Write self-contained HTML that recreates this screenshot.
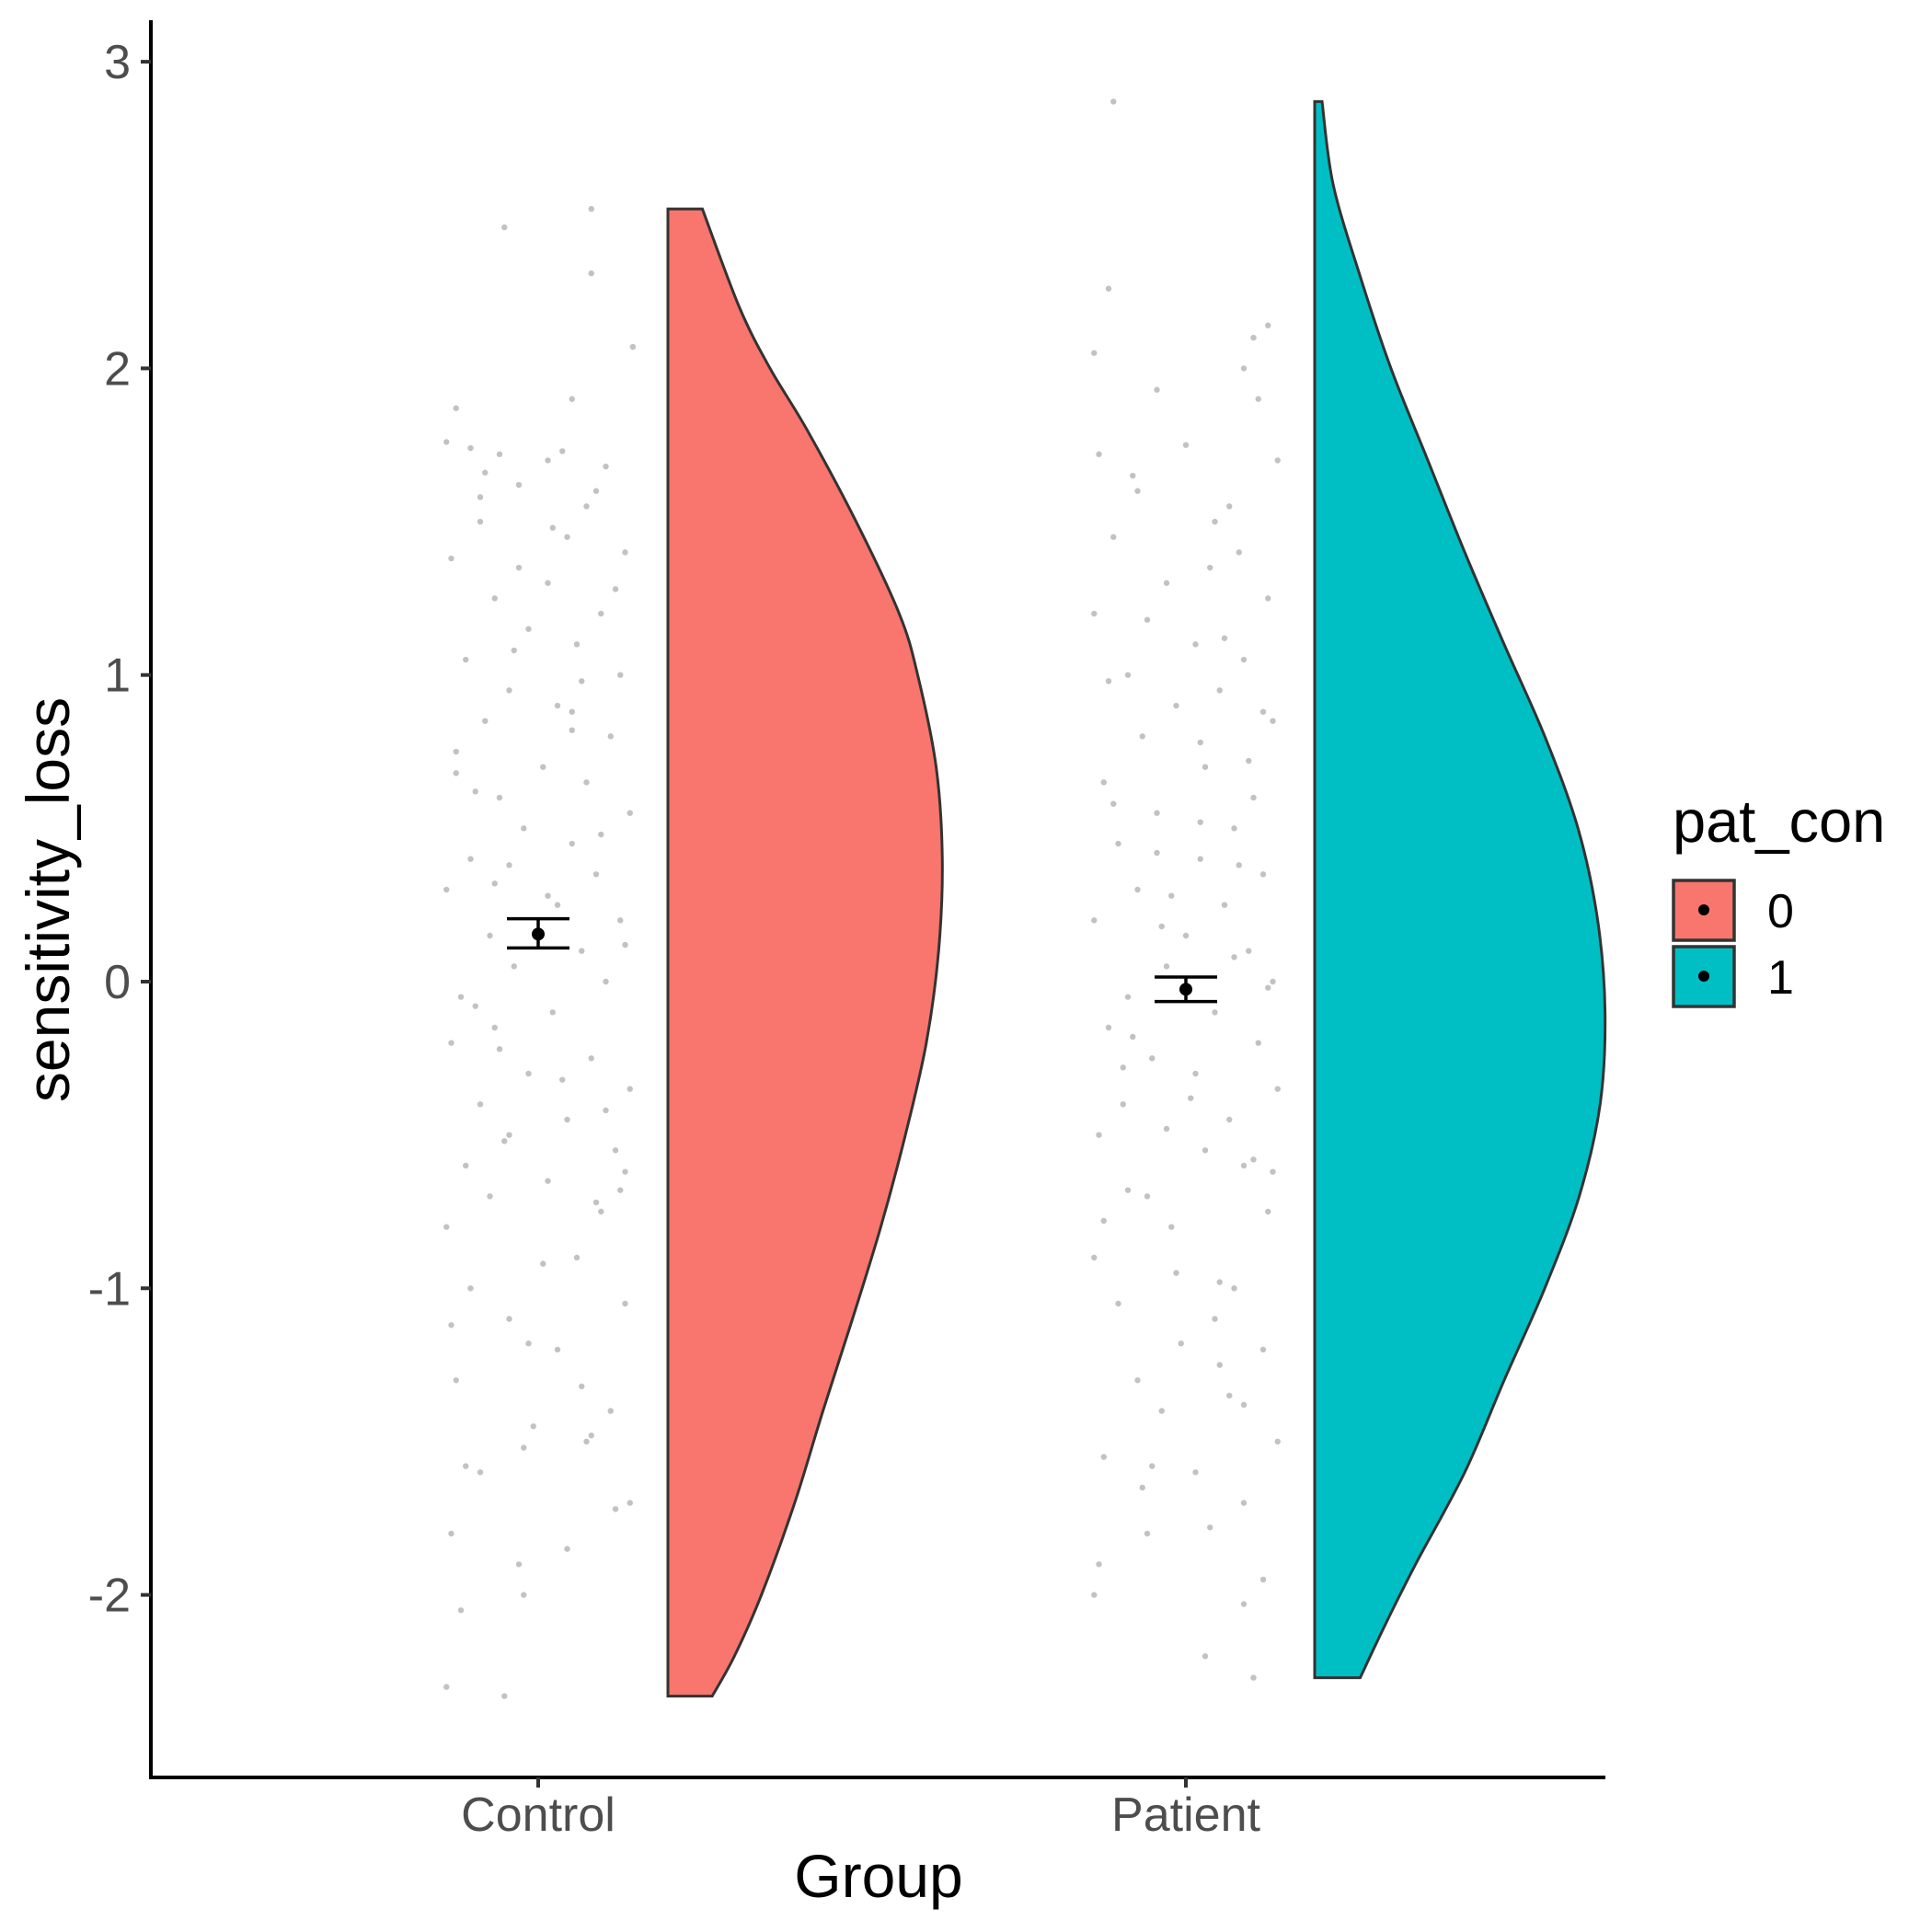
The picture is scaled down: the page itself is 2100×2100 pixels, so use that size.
<!DOCTYPE html>
<html><head><meta charset="utf-8"><style>
html,body{margin:0;padding:0;background:#fff;}
svg{display:block;}
</style></head><body>
<svg id="chart" width="2100" height="2100" viewBox="0 0 2100 2100" xmlns="http://www.w3.org/2000/svg" font-family="'Liberation Sans', Arial, sans-serif">
<g id="points"></g>
<g id="violins"></g>
<g id="errbars"></g>
<g id="axes"></g>
<text x="955" y="2062" font-size="66" text-anchor="middle" fill="#000">Group</text>
<text transform="translate(75,978) rotate(-90)" font-size="66" text-anchor="middle" fill="#000">sensitivity_loss</text>
<g>
<text x="1818" y="915" font-size="65" fill="#000">pat_con</text>
<g>
<rect x="1819" y="957" width="66" height="65" fill="#F8766D" stroke="#333" stroke-width="3.5"/>
<circle cx="1852" cy="989" r="6" fill="#000"/>
<text x="1921" y="1008" font-size="52" fill="#000">0</text>
</g>
<g>
<rect x="1819" y="1029" width="66" height="65" fill="#00BFC4" stroke="#333" stroke-width="3.5"/>
<circle cx="1852" cy="1061" r="6" fill="#000"/>
<text x="1921" y="1080" font-size="52" fill="#000">1</text>
</g>
</g>
</svg>
<script>
// ---- data ----
const groups = ["Control", "Patient"];
const yTicks = [-2, -1, 0, 1, 2, 3];
const yTickLabels = ["-2", "-1", "0", "1", "2", "3"];
const controlDensY = [2.52, 2.2, 2.0, 1.8, 1.5, 1.2, 1.0, 0.7, 0.4, 0.1, -0.2, -0.5, -0.8, -1.1, -1.4, -1.7, -2.0, -2.2, -2.33];
const controlDens  = [28, 58, 83, 113, 153, 188, 203, 218, 223, 220, 210, 193, 173, 150, 126, 103, 76, 54, 36];
const patientDensY = [2.87, 2.6, 2.3, 2.0, 1.7, 1.4, 1.1, 0.8, 0.5, 0.2, -0.1, -0.4, -0.7, -1.0, -1.3, -1.6, -1.9, -2.1, -2.27];
const patientDens  = [6, 15, 37, 62, 92, 122, 154, 187, 214, 230, 236, 232, 215, 187, 154, 122, 82, 57, 37];
const means = [0.155, -0.025];
const upper = [0.205, 0.015];
const lower = [0.11, -0.065];
const controlPtsY = [2.52,2.46,2.31,2.07,1.9,1.87,1.76,1.74,1.72,1.7,1.68,1.62,1.55,1.5,1.45,1.4,1.38,1.3,1.25,1.2,1.15,1.1,1.05,1.0,0.95,0.9,0.85,0.8,0.75,0.7,0.65,0.6,0.55,0.5,0.45,0.4,0.35,0.3,0.25,0.2,0.15,0.1,0.05,0.0,-0.05,-0.1,-0.15,-0.2,-0.25,-0.3,-0.35,-0.4,-0.45,-0.5,-0.55,-0.6,-0.65,-0.7,-0.75,-0.8,-0.9,-1.0,-1.05,-1.1,-1.2,-1.3,-1.4,-1.45,-1.5,-1.6,-1.7,-1.8,-1.85,-1.9,-2.0,-2.05,-2.3,-2.33,1.73,1.6,1.35,0.98,0.62,0.28,-0.22,-0.68,-1.18,-1.48,1.66,0.82,-0.42,-1.58,1.58,1.28,1.08,0.88,0.68,0.48,0.32,0.12,-0.08,-0.32,-0.52,-0.72,-0.92,-1.12,-1.32,-1.52,-1.72,1.48,0.38,-0.62];
const controlPtsJ = [0.55,-0.35,0.55,0.98,0.35,-0.85,-0.95,-0.7,-0.4,0.1,0.7,-0.2,0.5,-0.6,0.3,0.9,-0.9,0.1,-0.45,0.65,-0.1,0.4,-0.75,0.85,-0.3,0.2,-0.55,0.75,-0.85,0.05,0.5,-0.4,0.95,-0.15,0.35,-0.7,0.6,-0.95,0.2,0.85,-0.5,0.45,-0.25,0.7,-0.8,0.15,-0.45,-0.9,0.55,-0.1,0.95,-0.6,0.3,-0.3,0.8,-0.75,0.1,-0.5,0.65,-0.95,0.4,-0.7,0.9,-0.3,0.2,-0.85,0.75,-0.05,0.5,-0.6,0.95,-0.9,0.3,-0.2,-0.15,-0.8,-0.95,-0.35,0.25,0.6,-0.2,0.45,-0.65,0.1,-0.4,0.85,-0.1,0.55,-0.55,0.35,0.7,-0.75,-0.6,0.8,-0.25,0.35,-0.85,0.65,-0.45,0.9,-0.65,0.25,-0.35,0.6,0.05,-0.9,0.45,-0.15,0.8,0.15,-0.3,0.9];
const patientPtsY = [2.87,2.26,2.14,2.1,2.05,2.0,1.93,1.9,1.75,1.72,1.7,1.6,1.5,1.45,1.4,1.3,1.25,1.2,1.1,1.05,1.0,0.95,0.9,0.85,0.8,0.7,0.65,0.6,0.55,0.5,0.45,0.4,0.35,0.3,0.25,0.2,0.15,0.1,0.05,0.0,-0.05,-0.1,-0.15,-0.2,-0.25,-0.3,-0.35,-0.4,-0.45,-0.5,-0.55,-0.6,-0.7,-0.75,-0.8,-0.9,-1.0,-1.05,-1.1,-1.2,-1.3,-1.35,-1.4,-1.5,-1.55,-1.6,-1.7,-1.8,-1.9,-2.0,-2.03,-2.2,-2.27,1.65,1.35,0.98,0.72,0.42,0.08,-0.28,-0.62,-0.95,-1.25,-1.65,-1.95,0.52,-0.48,1.12,1.55,1.18,0.78,0.58,0.38,0.18,-0.02,-0.18,-0.38,-0.58,-0.78,-0.98,-1.18,-1.38,-1.58,-1.78,0.88,-0.68,0.28];
const patientPtsJ = [-0.75,-0.8,0.85,0.7,-0.95,0.6,-0.3,0.75,0.0,-0.9,0.95,-0.5,0.3,-0.75,0.55,-0.2,0.85,-0.95,0.1,0.6,-0.6,0.35,-0.1,0.9,-0.45,0.2,-0.85,0.7,-0.3,0.5,-0.7,0.15,0.8,-0.5,0.4,-0.95,0.0,0.65,-0.2,0.9,-0.6,0.3,-0.8,0.75,-0.35,0.1,0.95,-0.65,0.45,-0.9,0.2,0.6,-0.4,0.85,-0.15,-0.95,0.5,-0.7,0.3,0.8,-0.5,0.45,-0.25,0.95,-0.85,0.1,0.6,-0.4,-0.9,-0.95,0.6,0.2,0.7,-0.55,0.25,-0.8,0.65,-0.3,0.5,-0.65,0.9,-0.1,0.35,-0.45,0.8,0.15,-0.2,0.4,0.45,-0.4,0.15,-0.75,0.55,-0.25,0.85,-0.55,0.05,0.7,-0.85,0.35,-0.05,0.6,-0.35,0.25,0.8,-0.6,-0.15];

// ---- scales ----
const NS = "http://www.w3.org/2000/svg";
const yScale = v => 1067 - 333.3 * v;
const xCenters = [585, 1289];
const xScale = i => xCenters[i];
const violinLeft = [726, 1429];
const wScale = d => d * 1.3374;
const jitterHalf = 105;

function mk(tag, attrs, parent) {
  const el = document.createElementNS(NS, tag);
  for (const k in attrs) el.setAttribute(k, attrs[k]);
  parent.appendChild(el);
  return el;
}

// points
const ptsG = document.getElementById("points");
[[controlPtsY, controlPtsJ], [patientPtsY, patientPtsJ]].forEach((arr, gi) => {
  arr[0].forEach((v, i) => {
    const c = mk("circle", {cx: xScale(gi) + arr[1][i] * jitterHalf, cy: yScale(v), r: 3.2, fill: "#999999", "fill-opacity": 0.6}, ptsG);
    
    
  });
});

// violins
const vG = document.getElementById("violins");
[[controlDensY, controlDens, "#F8766D"], [patientDensY, patientDens, "#00BFC4"]].forEach((arr, gi) => {
  const left = violinLeft[gi];
  const ys = arr[0], ds = arr[1];
  const curve = ys.map((v, i) => [left + wScale(ds[i]), yScale(v)]);
  let d = `M${left},${yScale(ys[0])} L${curve[0][0]},${curve[0][1]}`;
  for (let i = 0; i < curve.length - 1; i++) {
    const p0 = curve[Math.max(0, i - 1)], p1 = curve[i], p2 = curve[i + 1], p3 = curve[Math.min(curve.length - 1, i + 2)];
    const c1 = [p1[0] + (p2[0] - p0[0]) / 6, p1[1] + (p2[1] - p0[1]) / 6];
    const c2 = [p2[0] - (p3[0] - p1[0]) / 6, p2[1] - (p3[1] - p1[1]) / 6];
    d += ` C${c1[0]},${c1[1]} ${c2[0]},${c2[1]} ${p2[0]},${p2[1]}`;
  }
  d += ` L${left},${yScale(ys[ys.length - 1])} Z`;
  const p = mk("path", {d: d, fill: arr[2], stroke: "#333333", "stroke-width": 3}, vG);
  
  
});

// error bars
const eG = document.getElementById("errbars");
means.forEach((m, gi) => {
  const x = xScale(gi);
  const g = mk("g", {}, eG);
  
  
  mk("line", {x1: x - 34, x2: x + 34, y1: yScale(upper[gi]), y2: yScale(upper[gi]), stroke: "#000", "stroke-width": 3.5}, g);
  mk("line", {x1: x - 34, x2: x + 34, y1: yScale(lower[gi]), y2: yScale(lower[gi]), stroke: "#000", "stroke-width": 3.5}, g);
  mk("line", {x1: x, x2: x, y1: yScale(upper[gi]), y2: yScale(lower[gi]), stroke: "#000", "stroke-width": 3.5}, g);
  mk("circle", {cx: x, cy: yScale(m), r: 7, fill: "#000"}, g);
});

// axes
const aG = document.getElementById("axes");
const yl = mk("line", {x1: 164, x2: 164, y1: 22, y2: 1934, stroke: "#000", "stroke-width": 4}, aG);


const xl = mk("line", {x1: 162, x2: 1745, y1: 1932, y2: 1932, stroke: "#000", "stroke-width": 4}, aG);


yTicks.forEach((v, i) => {
  const y = yScale(v);
  mk("line", {x1: 153, x2: 164, y1: y, y2: y, stroke: "#333", "stroke-width": 4}, aG);
  const t = mk("text", {x: 142, y: y + 18, "font-size": 52, fill: "#4D4D4D", "text-anchor": "end"}, aG);
  t.textContent = yTickLabels[i];
  
  
});
groups.forEach((g, i) => {
  const x = xScale(i);
  mk("line", {x1: x, x2: x, y1: 1932, y2: 1943, stroke: "#333", "stroke-width": 4}, aG);
  const t = mk("text", {x: x, y: 1990, "font-size": 52, fill: "#4D4D4D", "text-anchor": "middle"}, aG);
  t.textContent = g;
  
  
});
</script>
</body></html>
